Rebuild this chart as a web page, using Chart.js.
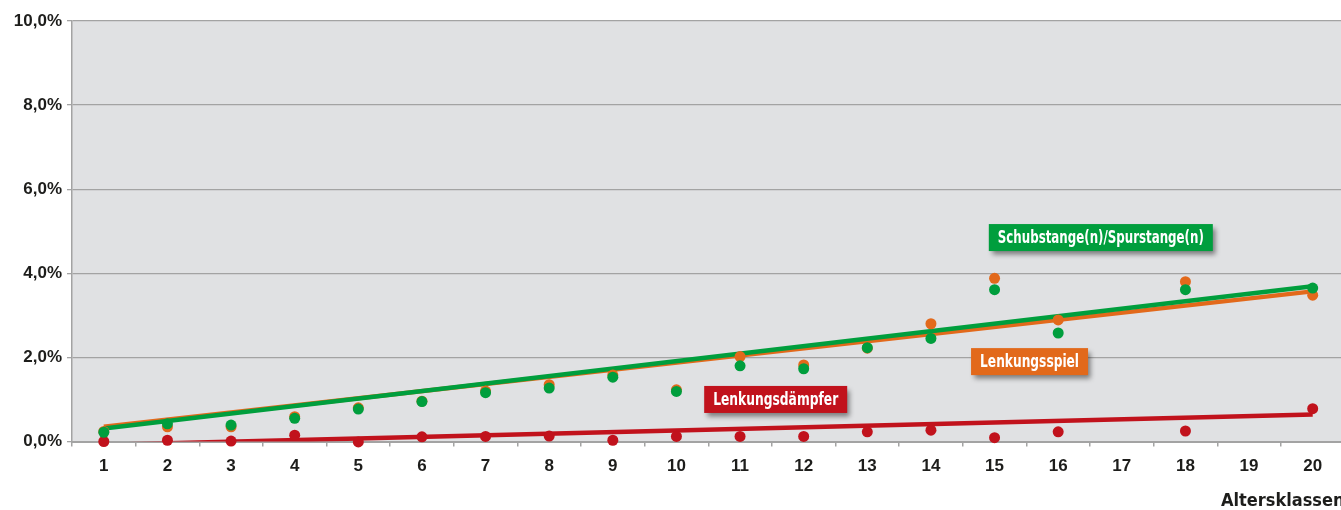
<!DOCTYPE html>
<html>
<head>
<meta charset="utf-8">
<script src="https://cdn.jsdelivr.net/npm/chart.js@4"></script>
<style>
    html, body { margin: 0; padding: 0; background: #fff; overflow: hidden; }
    canvas { display: block; }
</style>
</head>
<body>
<canvas id="chartCanvas" width="1350" height="510"></canvas>
<script>
// Altersklassen (x axis)
const altersklassen = ['1', '2', '3', '4', '5', '6', '7', '8', '9', '10',
    '11', '12', '13', '14', '15', '16', '17', '18', '19', '20'];

// Mängelquoten in % je Altersklasse
const schubstange = [0.22, 0.42, 0.39, 0.55, 0.77, 0.95, 1.16, 1.27, 1.53, 1.19,
    1.80, 1.73, 2.23, 2.45, 3.61, 2.58, null, 3.61, null, 3.65];
const lenkungsspiel = [0.24, 0.35, 0.35, 0.59, 0.80, 0.96, 1.20, 1.35, 1.58, 1.23,
    2.02, 1.82, 2.22, 2.80, 3.88, 2.89, null, 3.80, null, 3.48];
const lenkungsdaempfer = [0.00, 0.03, 0.01, 0.15, -0.01, 0.11, 0.12, 0.13, 0.03, 0.12,
    0.12, 0.12, 0.23, 0.27, 0.09, 0.23, null, 0.25, null, 0.78];

// Trendlinien: Wert bei Altersklasse 1 und 20
const trendSchubstange = [0.31, 3.69];
const trendSpiel = [0.35, 3.57];
const trendDaempfer = [-0.08, 0.64];

const yTicks = [0, 2, 4, 6, 8, 10];

const GREEN = '#009e3d';
const ORANGE = '#e2691b';
const RED = '#c1121c';

function trend(vals) {
    return [
        { x: altersklassen[0], y: vals[0] },
        { x: altersklassen[altersklassen.length - 1], y: vals[1] }
    ];
}

function pointSet(data, color, order) {
    return {
        data: data,
        showLine: false,
        pointRadius: 5.5,
        pointHoverRadius: 5.5,
        pointBorderWidth: 0,
        pointBackgroundColor: color,
        borderColor: color,
        clip: false,
        order: order
    };
}

function trendSet(vals, color, order) {
    return {
        data: trend(vals),
        borderColor: color,
        borderWidth: 4.5,
        pointRadius: 0,
        pointHoverRadius: 0,
        fill: false,
        clip: 0,
        order: order
    };
}

// plot background
const plotBackground = {
    id: 'plotBackground',
    beforeDraw(chart) {
        const a = chart.chartArea;
        const ctx = chart.ctx;
        ctx.save();
        ctx.fillStyle = '#e0e1e3';
        ctx.fillRect(a.left, a.top, a.right - a.left, a.bottom - a.top);
        ctx.restore();
    }
};

// coloured name boxes with shadow
const boxLabels = {
    id: 'boxLabels',
    afterDatasetsDraw(chart, args, opts) {
        const ctx = chart.ctx;
        const xs = chart.scales.x, ys = chart.scales.y;
        opts.items.forEach(function(item) {
            const cx = xs.getPixelForValue(item.x);
            const cy = ys.getPixelForValue(item.y);
            const w = item.width, h = 27;
            ctx.save();
            ctx.shadowColor = 'rgba(0,0,0,0.45)';
            ctx.shadowBlur = 5;
            ctx.shadowOffsetX = 3;
            ctx.shadowOffsetY = 4;
            ctx.fillStyle = item.color;
            ctx.fillRect(cx - w / 2, cy - h / 2, w, h);
            ctx.restore();
            ctx.save();
            ctx.fillStyle = '#ffffff';
            ctx.font = "bold 18px 'Liberation Sans Narrow', 'DejaVu Sans Condensed', 'Liberation Sans', sans-serif";
            ctx.textAlign = 'center';
            ctx.textBaseline = 'middle';
            ctx.fillText(item.text, cx, cy + 1, w - 18);
            ctx.restore();
        });
    }
};

const ctx = document.getElementById('chartCanvas').getContext('2d');
new Chart(ctx, {
    type: 'line',
    data: {
        labels: altersklassen,
        datasets: [
            pointSet(schubstange, GREEN, 0),
            pointSet(lenkungsspiel, ORANGE, 1),
            pointSet(lenkungsdaempfer, RED, 2),
            trendSet(trendSchubstange, GREEN, 3),
            trendSet(trendDaempfer, RED, 4),
            trendSet(trendSpiel, ORANGE, 5)
        ]
    },
    options: {
        responsive: false,
        animation: false,
        events: [],
        layout: { padding: { top: 21, right: 0, left: 0, bottom: 0 } },
        plugins: {
            legend: { display: false },
            tooltip: { enabled: false },
            boxLabels: {
                items: [
                    { text: 'Schubstange(n)/Spurstange(n)', x: 15.67, y: 4.85, width: 224, color: GREEN },
                    { text: 'Lenkungsspiel', x: 14.55, y: 1.9, width: 117, color: ORANGE },
                    { text: 'Lenkungsdämpfer', x: 10.56, y: 1.0, width: 143, color: RED }
                ]
            }
        },
        scales: {
            x: {
                offset: true,
                grid: {
                    offset: true,
                    drawOnChartArea: false,
                    drawTicks: true,
                    tickLength: 5,
                    color: '#a3a3a3',
                    lineWidth: 1.5
                },
                border: { display: true, color: '#a3a3a3', width: 2 },
                ticks: {
                    color: '#1d1d1b',
                    padding: 10,
                    maxRotation: 0,
                    autoSkip: false,
                    font: { family: "'Liberation Sans', Arial, sans-serif", size: 17, weight: 'bold' }
                },
                title: {
                    display: true,
                    text: 'Altersklassen',
                    align: 'end',
                    color: '#1d1d1b',
                    padding: { top: 0, bottom: 0 },
                    font: { family: "'Liberation Sans Narrow', 'DejaVu Sans Condensed', sans-serif", size: 18, weight: 'bold', lineHeight: 1 }
                },
                afterFit: function(scale) { scale.height = 68.5; }
            },
            y: {
                min: 0,
                max: 10,
                afterBuildTicks: function(scale) {
                    scale.ticks = yTicks.map(function(v) { return { value: v }; });
                },
                grid: {
                    color: '#a3a3a3',
                    lineWidth: 1.3,
                    tickLength: 5
                },
                border: { display: true, color: '#a3a3a3', width: 1.5 },
                ticks: {
                    color: '#1d1d1b',
                    padding: 5,
                    font: { family: "'Liberation Sans', Arial, sans-serif", size: 17, weight: 'bold' },
                    callback: function(value) {
                        return value.toFixed(1).replace('.', ',') + '%';
                    }
                },
                afterFit: function(scale) { scale.width = 72; }
            }
        }
    },
    plugins: [plotBackground, boxLabels]
});
</script>
</body>
</html>
